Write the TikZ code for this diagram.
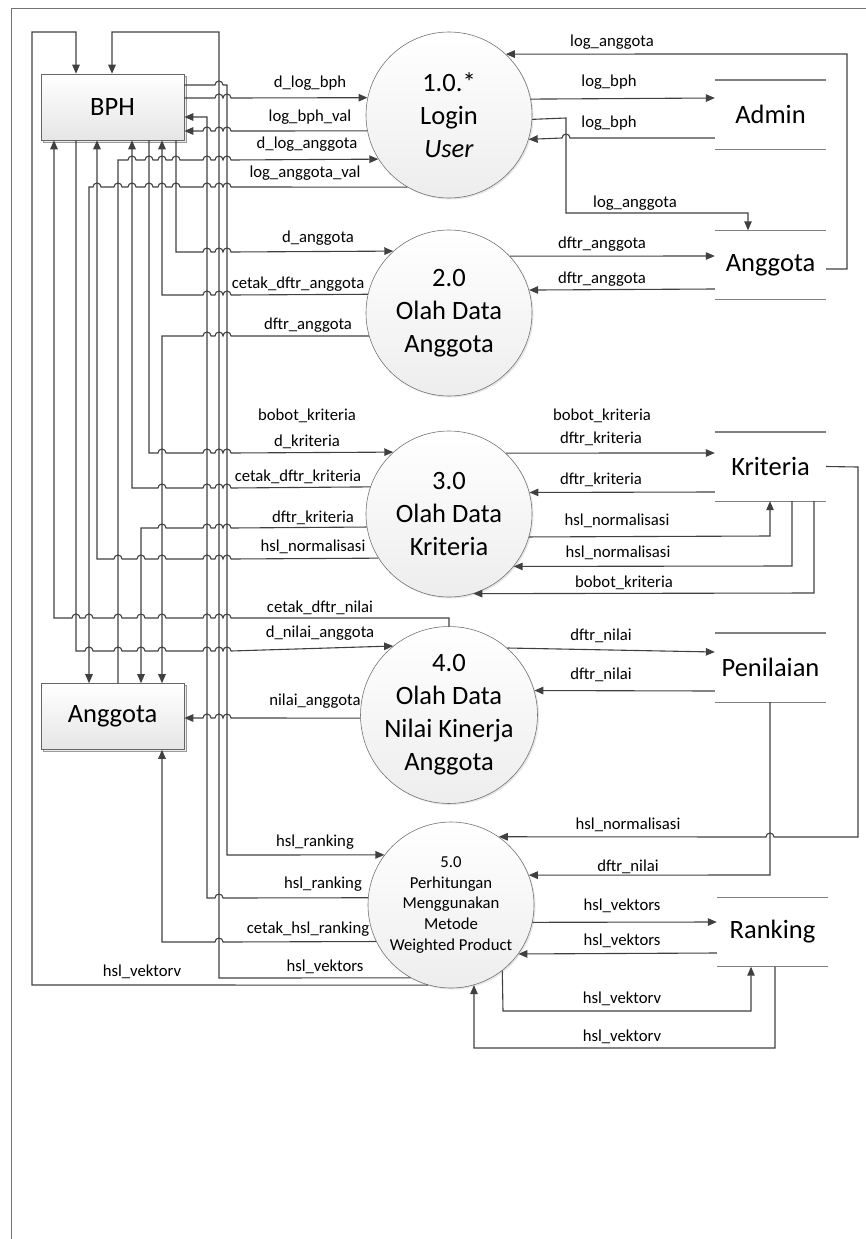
\documentclass[tikz,border=0pt]{standalone}
\usepackage{fontspec}
\setmainfont{Carlito}
\usetikzlibrary{arrows.meta,shadows}

% hops over crossing lines (left to right / right to left)
\newcommand{\hopr}[2]{foreach \hx in {#1} {-- (\hx-4,#2) arc[start angle=180,end angle=0,radius=4pt]}}
\newcommand{\hopl}[2]{foreach \hx in {#1} {-- (\hx+4,#2) arc[start angle=0,end angle=180,radius=4pt]}}

\tikzset{
  flow/.style={draw=black!75, line width=1.1pt, -{Triangle[length=9pt,width=7.5pt]}},
  proc/.style={circle, draw=black!55, line width=0.6pt, minimum size=166pt, inner sep=0pt,
    align=center, top color=white, bottom color=black!7,
    font=\fontsize{26.5}{33}\selectfont,
    drop shadow={shadow xshift=1.5pt, shadow yshift=-1.5pt, opacity=0.2}},
  entity/.style={rectangle, draw=black!60, line width=0.6pt, minimum width=143pt,
    minimum height=66pt, top color=white, bottom color=black!10,
    font=\fontsize{26.5}{33}\selectfont,
    copy shadow={shadow xshift=2pt, shadow yshift=-2pt, draw=black!40, line width=0.5pt, fill=black!8}},
  store/.style={minimum width=111pt, minimum height=69pt, inner sep=0pt,
    font=\fontsize{26.5}{33}\selectfont},
  storeline/.style={draw=black!50, line width=1.4pt},
  lbl/.style={inner sep=0pt, font=\fontsize{16.7}{20}\selectfont},
}

\begin{document}
\begin{tikzpicture}[x=1pt, y=-1pt]
\useasboundingbox (0,0) rectangle (866,1239);
\draw[black!55, line width=1pt] (866,9) -- (11.5,9) -- (11.5,1239);

% entities
\node[entity] (bph) at (112.5,107) {BPH};
\node[entity] (agt) at (112.5,716.5) {Anggota};

% processes
\node[proc] (p1) at (449,115) {1.0.*\\Login\\\textit{User}};
\node[proc] (p2) at (449,313) {2.0\\Olah Data\\Anggota};
\node[proc] (p3) at (449,514) {3.0\\Olah Data\\Kriteria};
\node[proc] (p4) at (449,715) {4.0\\Olah Data\\Nilai Kinerja\\Anggota};
\node[proc, font=\fontsize{16.7}{20.7}\selectfont] (p5) at (451,905)
  {5.0\\Perhitungan\\Menggunakan\\Metode\\Weighted Product};

% data stores
\node[store] (sadm) at (770.5,114.5) {Admin};
\node[store] (sagt) at (770.5,265) {Anggota};
\node[store] (skri) at (770.5,466.5) {Kriteria};
\node[store] (snil) at (770.5,667.5) {Penilaian};
\node[store] (srnk) at (772.5,932) {Ranking};
\foreach \s in {sadm,sagt,skri,snil,srnk}
  \draw[storeline] (\s.north west) -- (\s.north east) (\s.south west) -- (\s.south east);

% BPH / Anggota <-> processes
\draw[flow] (bph.east |- 0,85) \hopr{219}{85} -- (227,85) -- (227,855) -- (p5.143);
\draw[flow] (bph.east |- 0,98) \hopr{219,227}{98} -- (p1.168.2);
\draw[flow] (p1.191.1) \hopl{227,219,207}{131} -- (bph.east |- 0,131);
\draw[flow] (p5.175.2) \hopl{219}{898} -- (207,898) -- (207,117) -- (bph.east |- 0,117);
\draw[flow] (agt.north -| 118,0) -- (118,160) \hopr{132,149,162,176,207,219,227}{160} -- (p1.212.8);
\draw[flow] (p1.240.2) \hopl{227,219,207,176,162,149,132,118,97}{187} -- (89,187) -- (agt.north -| 89,0);
\draw[flow] (bph.south -| 176,0) -- (176,252) \hopr{207,219,227}{252} -- (p2.132.7);
\draw[flow] (p2.167.5) \hopl{227,219,207}{295} -- (162,295) -- (bph.south -| 162,0);
\draw[flow] (p2.196.1) \hopl{227,219,207}{336} -- (162,336) -- (agt.north -| 162,0);
\draw[flow] (bph.south -| 149,0) -- (149,453) \hopr{162,207,219,227}{453} -- (p3.132.7);
\draw[flow] (p3.161.7) \hopl{227,219,207,162}{488} -- (132,488) -- (bph.south -| 132,0);
\draw[flow] (p3.189.7) \hopl{227,219,207,162}{528} -- (141,528) -- (agt.north -| 141,0);
\draw[flow] (p3.212.8) \hopl{227,219,207,162,141,118}{559} -- (97,559) -- (bph.south -| 97,0);
\draw[flow] (p4.north) -- (449,618) \hopl{227,219,207,162,141,118,89,76}{618} -- (54,618) -- (bph.south -| 54,0);
\draw[flow] (bph.south -| 76,0) -- (76,651) \hopr{89,118,141,162,207,219,227}{651} -- (p4.129.6);
\draw[flow] (p4.182.1) \hopl{227,219,207}{718} -- (agt.east |- 0,718);
\draw[flow] (p5.206.5) \hopl{219}{942} -- (162,942) -- (agt.south -| 162,0);
\draw[flow] (p5.241.6) -- (219,978) -- (219,32) -- (112,32) -- (bph.north -| 112,0);
\draw[flow] (p5.254.6) -- (32,985) -- (32,32) -- (76,32) -- (bph.north -| 76,0);

% processes <-> data stores
\draw[flow] ([yshift=-4pt]sagt.east) -- (847,269) -- (847,54) -- (p1.47.3);
\draw[flow] (p1.11.8) -- (sadm.west |- 0,98);
\draw[flow] (sadm.west |- 0,138) \hopl{566}{138} -- (p1.343.9);
\draw[flow] (p1.357.9) -- (566,118) -- (566,213) -- (748,213) -- (sagt.north -| 748,0);
\draw[flow] (p2.43.4) -- (sagt.west |- 0,256);
\draw[flow] (sagt.west |- 0,289) -- (p2.16.8);
\draw[flow] (p3.47.3) -- (skri.west |- 0,453);
\draw[flow] (skri.west |- 0,492) -- (p3.15.4);
\draw[flow] (p3.344.6) -- (770,536) -- (skri.south -| 770,0);
\draw[flow] (skri.south -| 792,0) -- (792,566) -- (p3.321.2);
\draw[flow] (skri.south -| 814,0) -- (814,593) -- (p3.287.9);
\draw[flow] (skri.east) -- (858,467) -- (858,837) \hopl{770}{837} -- (p5.55);
\draw[flow] (p4.49.4) -- (snil.west |- 0,652);
\draw[flow] (snil.west |- 0,691) -- (p4.16.8);
\draw[flow] (snil.south -| 770,0) -- (770,875) -- (p5.21.2);
\draw[flow] (p5.348.2) -- (srnk.west |- 0,922);
\draw[flow] (srnk.west |- 0,953) -- (p5.324.7);
\draw[flow] (p5.308.8) -- (503,1011) -- (751,1011) -- (srnk.south -| 751,0);
\draw[flow] (srnk.south -| 775,0) -- (775,1048) -- (474,1048) -- (p5.286.1);

% flow labels
\foreach \x/\y/\t [count=\i] in {
  310/83/d\_log\_bph, 310/117/log\_bph\_val, 307/144/d\_log\_anggota,
  305/173/log\_anggota\_val, 318/238/d\_anggota, 298/284/cetak\_dftr\_anggota,
  308/325/dftr\_anggota, 307/416/bobot\_kriteria, 307/442/d\_kriteria,
  298/477/cetak\_dftr\_kriteria, 313/518/dftr\_kriteria, 313/547/hsl\_normalisasi,
  320/608/cetak\_dftr\_nilai, 320/633/d\_nilai\_anggota, 315/701/nilai\_anggota,
  315/842/hsl\_ranking, 323/884/hsl\_ranking, 308/929/cetak\_hsl\_ranking,
  325/967/hsl\_vektors, 142/972/hsl\_vektorv,
  612/42/log\_anggota, 609/82/log\_bph, 609/123/log\_bph, 635/203/log\_anggota,
  602/244/dftr\_anggota, 602/279/dftr\_anggota, 602/416/bobot\_kriteria,
  601/439/dftr\_kriteria, 601/480/dftr\_kriteria, 617/521/hsl\_normalisasi,
  618/553/hsl\_normalisasi, 624/583/bobot\_kriteria, 601/636/dftr\_nilai,
  601/675/dftr\_nilai, 628/825/hsl\_normalisasi, 628/867/dftr\_nilai,
  622/906/hsl\_vektors, 622/941/hsl\_vektors, 622/999/hsl\_vektorv,
  622/1037/hsl\_vektorv}
  \node[lbl] (lb\i) at (\x,\y) {\t};
\end{tikzpicture}
\end{document}
